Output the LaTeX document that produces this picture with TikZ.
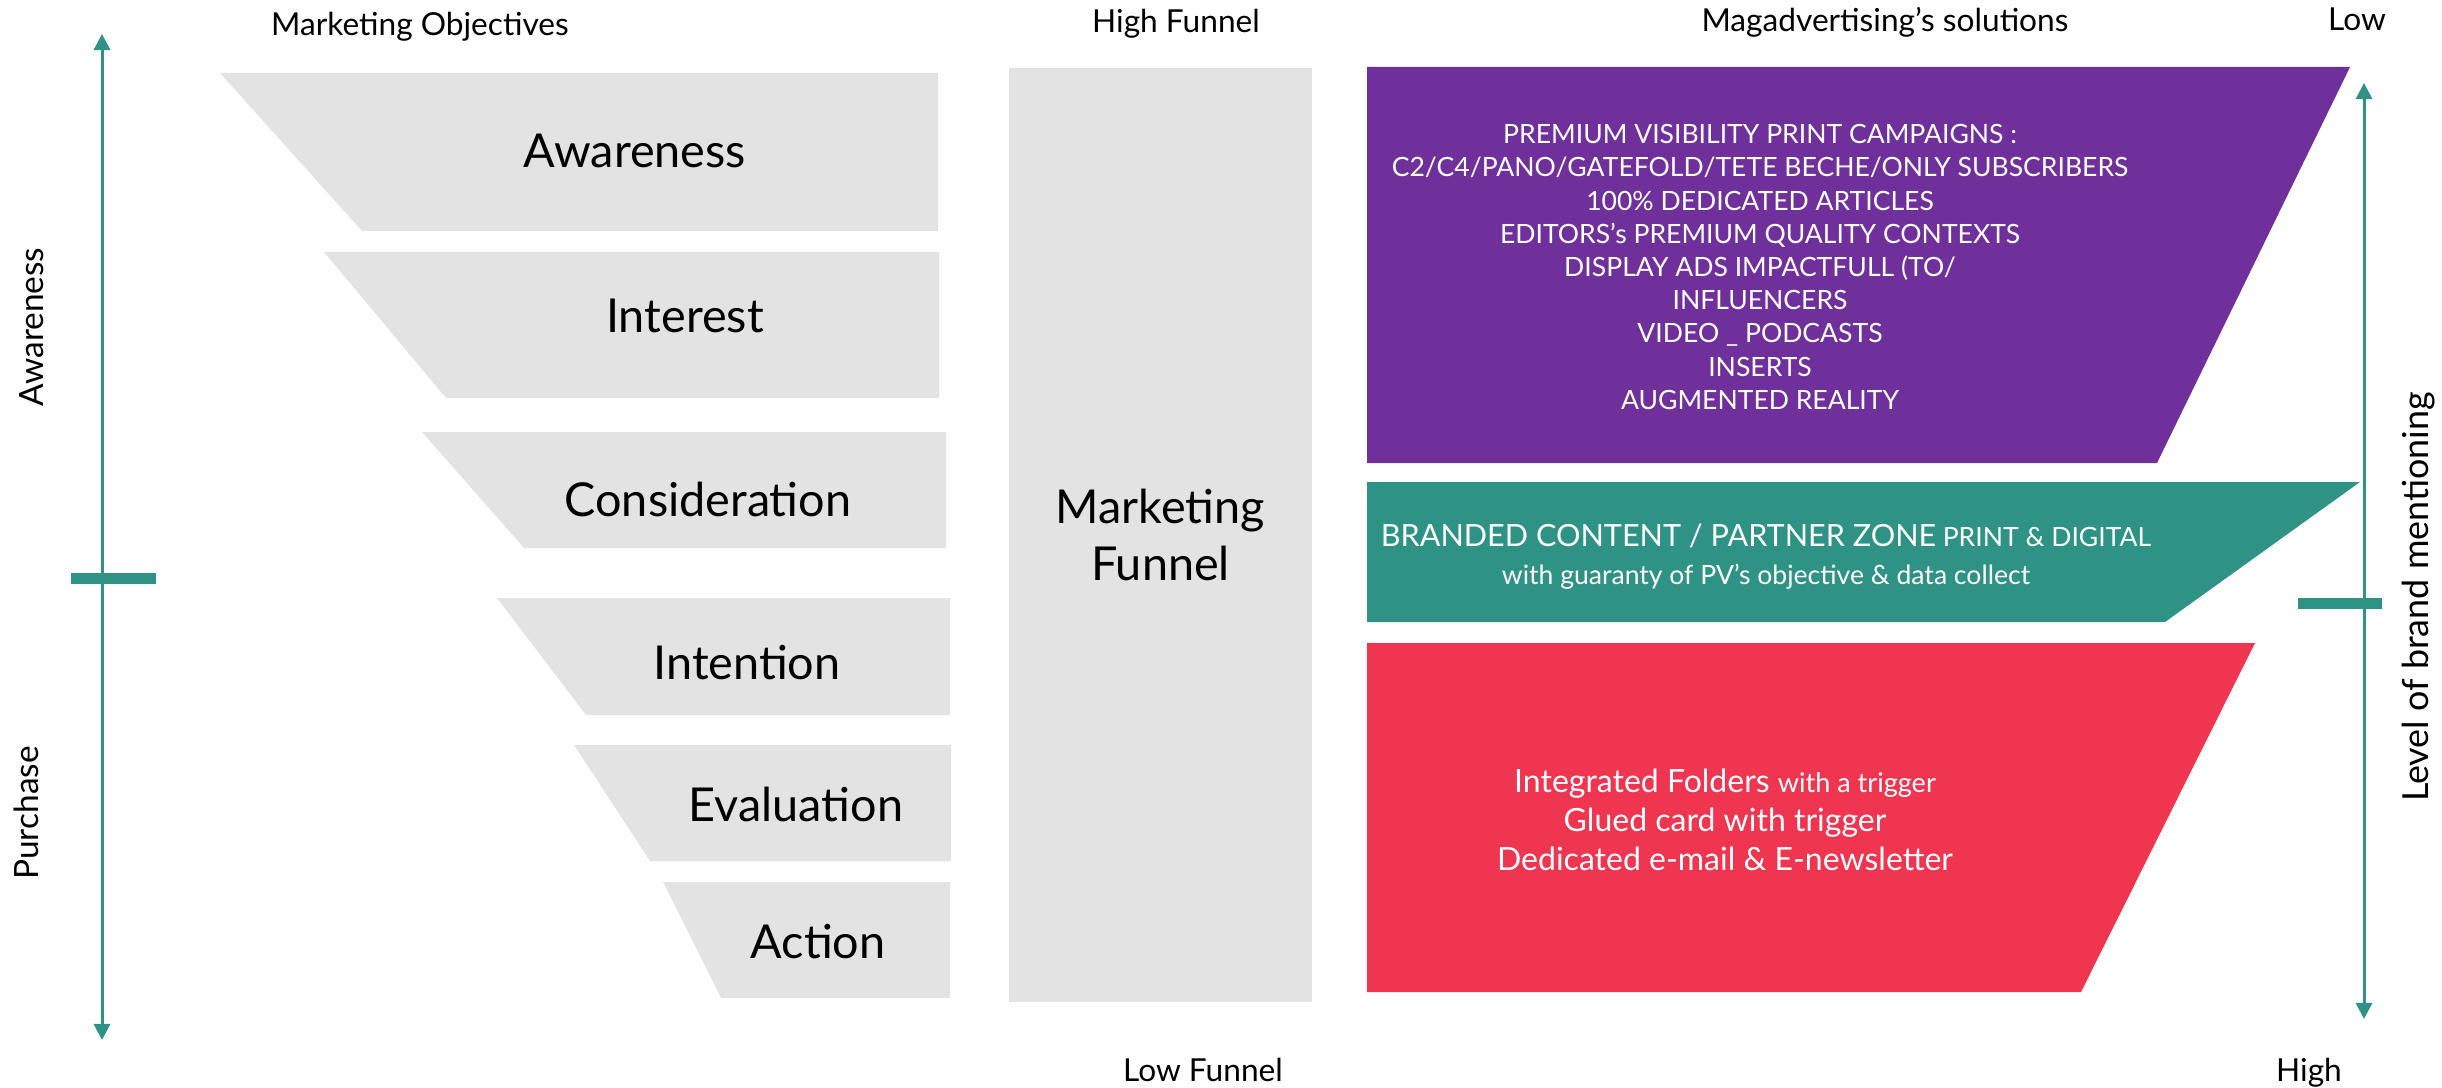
\documentclass[tikz,border=0pt]{standalone}
\usepackage{fontspec}
\setmainfont{Lato}
\usetikzlibrary{positioning,arrows.meta}

\definecolor{stagegrey}{HTML}{E3E3E3}
\definecolor{visipurple}{HTML}{70309C}
\definecolor{brandteal}{HTML}{2E9385}
\definecolor{actionred}{HTML}{EF3550}

\tikzset{
	stage/.style={fill=stagegrey},
	stagelabel/.style={anchor=base, font=\fontsize{13.3}{16}\selectfont},
	heading/.style={anchor=base, font=\fontsize{9}{11}\selectfont},
	sidelabel/.style={rotate=90, font=\fontsize{9.5}{11}\selectfont},
	axis/.style={brandteal, line width=0.03cm, {Triangle[width=0.16cm,length=0.16cm]}-{Triangle[width=0.16cm,length=0.16cm]}},
	solution/.style={text=white, align=center}
}

\begin{document}
\begin{tikzpicture}[x=0.01cm, y=-0.01cm]
\useasboundingbox (0,0) rectangle (2442,1088);

% headings
\node[heading]	(objectives)	at (420,36)		{Marketing Objectives};
\node[heading]	(highfunnel)	at (1176,33)	{High Funnel};
\node[heading]	(solutions)		at (1885,32)	{Magadvertising’s solutions};
\node[heading]	(low)			at (2357,31)	{Low};
\node[heading]	(lowfunnel)		at (1203,1081)	{Low Funnel};
\node[heading]	(high)			at (2309,1081)	{High};

% left axis
\coordinate (objtop)	at (102,34);
\coordinate (objbottom)	at (102,1040);
\draw[axis] (objbottom) -- (objtop);
\fill[brandteal] (71,573) rectangle (156,584);
\node[sidelabel]	(awarenessaxis)	at (32,327)	{Awareness};
\node[sidelabel]	(purchaseaxis)	at (26,813)	{Purchase};

% funnel stages
\fill[stage] (220,73) -- (938,73) -- (938,231) -- (362,231) -- cycle;
\fill[stage] (324,252) -- (939,252) -- (939,398) -- (446,398) -- cycle;
\fill[stage] (422,432) -- (946,432) -- (946,548) -- (524,548) -- cycle;
\fill[stage] (497,598) -- (950,598) -- (950,715) -- (586,715) -- cycle;
\fill[stage] (574,745) -- (951,745) -- (951,861) -- (650,861) -- cycle;
\fill[stage] (663,882) -- (950,882) -- (950,998) -- (721,998) -- cycle;
\node[stagelabel]	(awareness)		at (635,168)	{Awareness};
\node[stagelabel]	(interest)		at (685,333)	{Interest};
\node[stagelabel]	(consideration)	at (708,516)	{Consideration};
\node[stagelabel]	(intention)		at (747,679)	{Intention};
\node[stagelabel]	(evaluation)	at (796,821)	{Evaluation};
\node[stagelabel]	(action)		at (818,958)	{Action};

% marketing funnel
\node[stage, minimum width=3.03cm, minimum height=9.34cm, align=center,
	font=\fontsize{13.3}{16.2}\selectfont] (funnel) at (1160.5,535) {Marketing\\Funnel};

% solutions
\fill[visipurple]	(1367,67) -- (2350,67) -- (2157,463) -- (1367,463) -- cycle;
\fill[brandteal]	(1367,482) -- (2360,482) -- (2165,622) -- (1367,622) -- cycle;
\fill[actionred]	(1367,643) -- (2255,643) -- (2081,992) -- (1367,992) -- cycle;
\node[solution, font=\fontsize{7.55}{9.45}\selectfont] (premium) at (1760,267)
	{PREMIUM VISIBILITY PRINT CAMPAIGNS :\\
	C2/C4/PANO/GATEFOLD/TETE BECHE/ONLY SUBSCRIBERS\\
	100\% DEDICATED ARTICLES\\
	EDITORS’s PREMIUM QUALITY CONTEXTS\\
	DISPLAY ADS IMPACTFULL (TO/\\
	INFLUENCERS\\
	VIDEO \_ PODCASTS\\
	INSERTS\\
	AUGMENTED REALITY};
\node[solution, font=\fontsize{7.55}{10.8}\selectfont] (branded) at (1766,557)
	{{\fontsize{8.7}{10.8}\selectfont BRANDED CONTENT / PARTNER ZONE} PRINT \& DIGITAL\\
	with guaranty of PV’s objective \& data collect};
\node[solution, font=\fontsize{9.1}{11}\selectfont] (folders) at (1725,820)
	{Integrated Folders {\fontsize{7.7}{11}\selectfont with a trigger}\\
	Glued card with trigger\\
	Dedicated e-mail \& E-newsletter};

% right axis
\coordinate (mentiontop)	at (2364,83);
\coordinate (mentionbottom)	at (2364,1019);
\draw[axis] (mentionbottom) -- (mentiontop);
\fill[brandteal] (2298,598) rectangle (2382,609);
\node[sidelabel, font=\fontsize{10.2}{12}\selectfont]	(mentioning)	at (2419,597)	{Level of brand mentioning};
\end{tikzpicture}
\end{document}
